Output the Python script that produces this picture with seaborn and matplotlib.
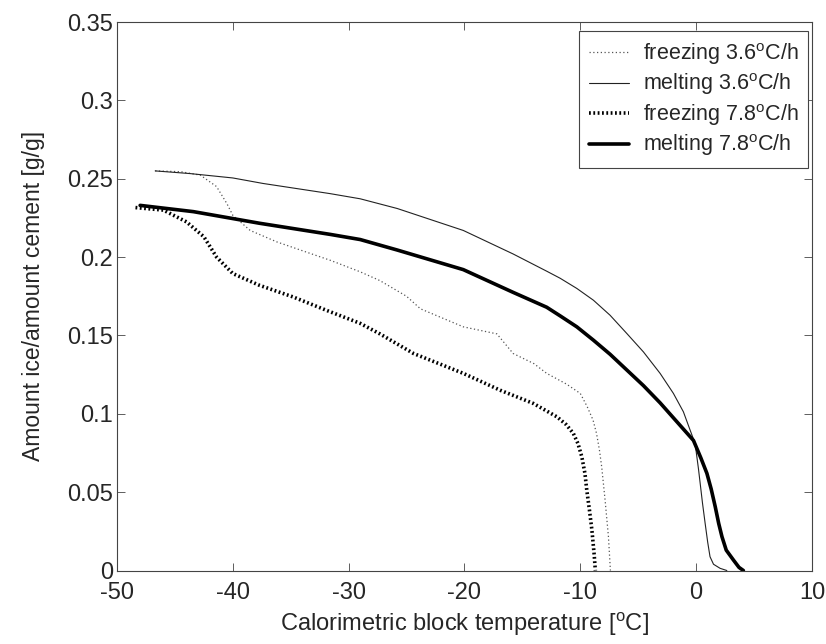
import matplotlib
matplotlib.use('Agg')

import numpy as np
import pandas as pd
import seaborn as sns
import matplotlib.pyplot as plt

# values
freeze36_t = [-46.7, -44.5, -42.8, -41.4, -40.5, -40.0, -38.5, -36.2, -33.3, -31.6, -29.0,
              -27.3, -25.0, -23.8, -20.1, -17.2, -15.8, -14.0, -12.9, -11.2, -10.0, -9.4,
              -8.9, -8.6, -8.35, -8.15, -7.86, -7.57, -7.4]
freeze36_v = [0.255, 0.2545, 0.2523, 0.245, 0.234, 0.2267, 0.217, 0.2097, 0.2023, 0.198, 0.1906,
              0.185, 0.175, 0.167, 0.1555, 0.151, 0.1385, 0.132, 0.1258, 0.119, 0.113, 0.1045,
              0.096, 0.0875, 0.077, 0.066, 0.045, 0.0216, 0.0]

melt36_t = [-46.7, -43.7, -40.0, -37.4, -31.6, -29.0, -25.8, -20.1, -15.8, -12.9, -11.74,
            -10.3, -8.87, -7.43, -5.99, -4.55, -3.11, -1.96, -1.1, -0.52, -0.09, 0.2,
            0.35, 0.55, 0.78, 1.0, 1.2, 1.5, 2.07, 2.65]
melt36_v = [0.255, 0.2533, 0.2505, 0.247, 0.2405, 0.2372, 0.231, 0.217, 0.202, 0.191, 0.1865,
            0.180, 0.1725, 0.1629, 0.1513, 0.1395, 0.1258, 0.113, 0.1013, 0.0896, 0.0811, 0.065,
            0.0556, 0.043, 0.030, 0.018, 0.0088, 0.004, 0.0014, 0.0]

freeze78_t = [-48.4, -46.0, -44.0, -42.5, -41.4, -40.0, -37.7, -34.8, -31.9, -29.0, -27.3,
              -24.4, -20.1, -16.9, -14.05, -12.0, -11.2, -10.6, -10.2, -9.87, -9.6, -9.44,
              -9.2, -9.0, -8.8, -8.7]
freeze78_v = [0.2316, 0.23, 0.2225, 0.213, 0.200, 0.1895, 0.182, 0.1746, 0.166, 0.1577, 0.151,
              0.1385, 0.1258, 0.115, 0.1066, 0.098, 0.093, 0.0875, 0.081, 0.0726, 0.062, 0.0513,
              0.038, 0.026, 0.010, 0.0]

melt78_t = [-48.0, -43.4, -37.7, -31.6, -29.0, -25.8, -20.1, -15.8, -12.9, -11.74, -10.3,
            -8.87, -7.43, -5.99, -4.55, -3.11, -1.67, -0.23, 0.4, 0.93, 1.3, 1.65, 1.95,
            2.23, 2.6, 3.22, 3.7, 4.08]
melt78_v = [0.233, 0.229, 0.2216, 0.2145, 0.2112, 0.2045, 0.192, 0.1775, 0.168, 0.1625, 0.1555,
            0.147, 0.138, 0.128, 0.118, 0.107, 0.095, 0.083, 0.072, 0.062, 0.052, 0.0407, 0.030,
            0.0216, 0.013, 0.0067, 0.002, 0.0]

labels = [r'freezing 3.6$^{\mathrm{o}}$C/h', r'melting 3.6$^{\mathrm{o}}$C/h',
          r'freezing 7.8$^{\mathrm{o}}$C/h', r'melting 7.8$^{\mathrm{o}}$C/h']

sns.set_style("ticks")
plt.rcParams['font.family'] = ['Liberation Sans', 'DejaVu Sans']
plt.rcParams['mathtext.fontset'] = 'custom'
plt.rcParams['mathtext.rm'] = 'Liberation Sans'
plt.rcParams['axes.unicode_minus'] = False
plt.rcParams['xtick.direction'] = 'in'
plt.rcParams['ytick.direction'] = 'in'

fig = plt.figure(figsize=(8.26, 6.44), dpi=100)
ax = fig.add_axes([0.1416, 0.1141, 0.983 - 0.1416, 0.9658 - 0.1141])

series = [
    (freeze36_t, freeze36_v, dict(color='#555555', lw=0.9, ls=(0, (1, 2)))),
    (melt36_t, melt36_v, dict(color='#222222', lw=0.8, ls='-')),
    (freeze78_t, freeze78_v, dict(color='black', lw=2.6, ls=(0, (0.5, 0.7)))),
    (melt78_t, melt78_v, dict(color='black', lw=2.6, ls='-')),
]
for (t, v, style), lab in zip(series, labels):
    sns.lineplot(x=t, y=v, ax=ax, sort=False, estimator=None, label=lab, **style)

ax.set_xlim(-50, 10)
ax.set_ylim(0, 0.35)
ax.set_xticks(np.arange(-50, 11, 10))
ax.set_yticks(np.arange(0, 0.351, 0.05))
ax.set_yticklabels(['0', '0.05', '0.1', '0.15', '0.2', '0.25', '0.3', '0.35'])
ax.tick_params(top=True, right=True, labelsize=17, length=6, width=0.6, color='#444444')
ax.tick_params(axis='y', pad=3)
ax.tick_params(axis='x', pad=8)
for s in ax.spines.values():
    s.set_linewidth(0.8)
    s.set_color('#444444')

ax.set_xlabel(r'Calorimetric block temperature [$^{\mathrm{o}}$C]', fontsize=17, labelpad=5)
ax.set_ylabel('Amount ice/amount cement [g/g]', fontsize=16.5, labelpad=16)

leg = ax.legend(loc='upper right', bbox_to_anchor=(0.994, 0.983), borderaxespad=0,
                fontsize=15.5, frameon=True, fancybox=False,
                edgecolor='#444444', framealpha=1, handlelength=1.85,
                labelspacing=0.22, borderpad=0.45, handletextpad=0.65)
leg.get_frame().set_linewidth(0.8)

plt.savefig('out.png', dpi=100)
